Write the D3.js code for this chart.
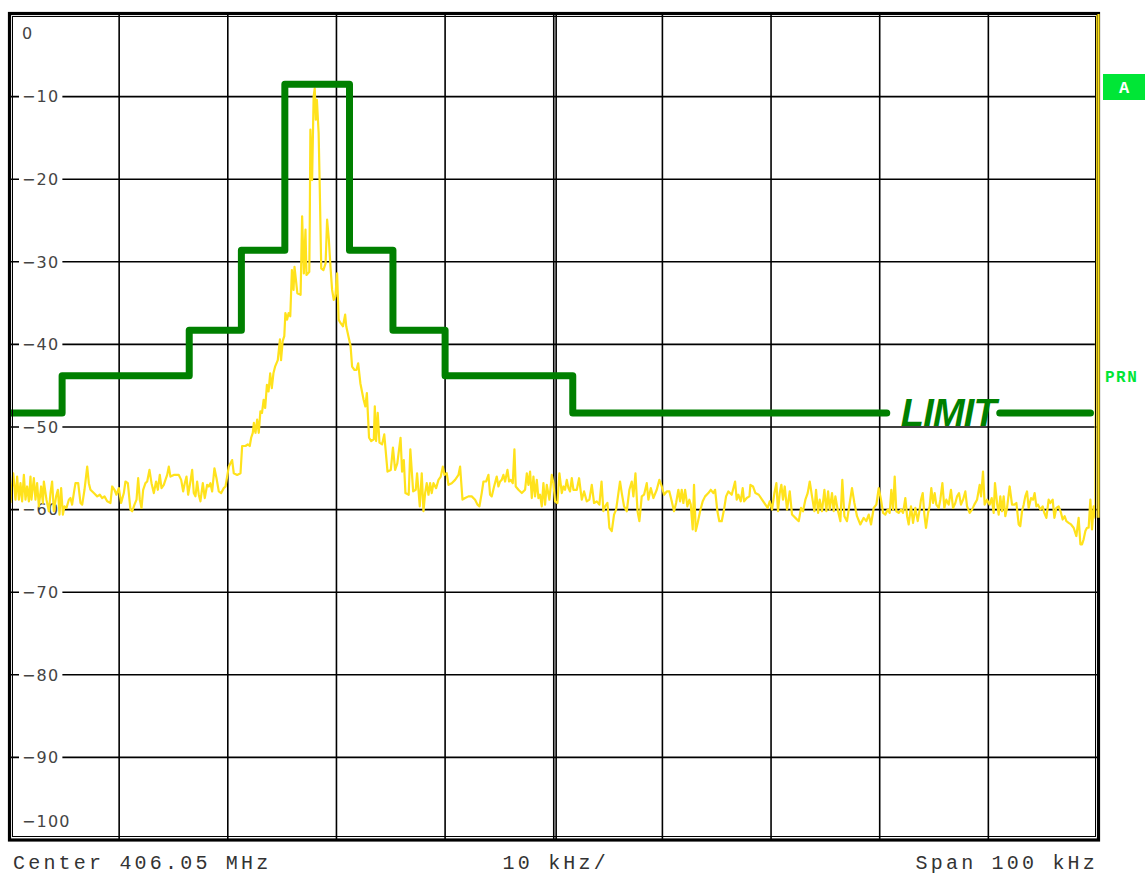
<!DOCTYPE html>
<html>
<head>
<meta charset="utf-8">
<script src="https://cdn.jsdelivr.net/npm/d3@7"></script>
<style>
  body { margin: 0; background: #fff; }
  svg { display: block; }
</style>
</head>
<body>
<div id="root"></div>
<script>
// grid and tick values
const freqGrid = [-50, -40, -30, -20, -10, 0, 10, 20, 30, 40, 50]; // kHz from center
const levelTicks = [0, -10, -20, -30, -40, -50, -60, -70, -80, -90, -100]; // dB
const levelLabels = ['0', '−10', '−20', '−30', '−40', '−50', '−60', '−70', '−80', '−90', '−100'];
const footerLabels = ['Center 406.05 MHz', '10 kHz/', 'Span 100 kHz'];

// limit mask : edges in kHz, one level (dB) between each pair of edges
const limitEdges = [-50, -45.25, -33.55, -28.75, -24.75, -18.8, -14.8, -10, 1.75, 49.4];
const limitLevels = [-48.3, -43.8, -38.3, -28.6, -8.5, -28.6, -38.3, -43.8, -48.3];
const limitLabel = 'LIMIT';
const limitGap = [30.65, 41.05]; // where the label cuts the line (kHz)

// measured trace [kHz, dB]
const trace = [
  [-50.0, -59.2], [-49.75, -55.6], [-49.54, -58.8], [-49.39, -56.0], [-49.23, -58.8], [-49.08, -56.8],
  [-48.93, -59.0], [-48.77, -55.8], [-48.62, -58.8], [-48.47, -57.2], [-48.31, -59.0], [-48.16, -56.0],
  [-48.07, -58.8], [-47.85, -56.2], [-47.70, -58.8], [-47.55, -56.8], [-47.39, -59.6], [-47.18, -57.2],
  [-47.02, -59.2], [-46.93, -56.6], [-46.69, -58.8], [-46.47, -60.2], [-46.32, -58.0], [-46.17, -56.6],
  [-46.01, -60.2], [-45.80, -58.4], [-45.64, -57.6], [-45.49, -60.6], [-45.34, -57.4], [-45.18, -60.6],
  [-45.03, -59.6], [-44.85, -59.8], [-44.63, -58.8], [-44.48, -58.6], [-44.33, -59.4], [-44.17, -58.0],
  [-44.02, -56.8], [-43.77, -56.8], [-43.56, -59.2], [-43.40, -59.4], [-43.19, -57.6], [-42.94, -54.8],
  [-42.79, -56.8], [-42.64, -57.6], [-42.33, -58.0], [-42.02, -58.4], [-41.78, -58.2], [-41.56, -58.6],
  [-41.35, -58.4], [-41.10, -59.0], [-40.80, -59.2], [-40.64, -57.2], [-40.43, -57.6], [-40.25, -58.2],
  [-40.03, -57.4], [-39.82, -59.2], [-39.57, -58.0], [-39.42, -56.6], [-39.20, -56.8], [-38.96, -60.0],
  [-38.80, -60.2], [-38.59, -59.4], [-38.40, -58.8], [-38.25, -56.2], [-38.10, -58.8], [-37.94, -59.8],
  [-37.79, -57.6], [-37.58, -56.8], [-37.42, -56.6], [-37.21, -55.2], [-37.02, -56.8], [-36.81, -58.0],
  [-36.60, -56.6], [-36.44, -57.6], [-36.26, -55.8], [-36.10, -57.4], [-35.89, -57.0], [-35.74, -56.4],
  [-35.58, -55.8], [-35.43, -54.8], [-35.28, -56.0], [-34.97, -55.8], [-34.51, -55.8], [-34.29, -56.4],
  [-34.11, -57.8], [-33.96, -56.8], [-33.80, -56.0], [-33.65, -58.2], [-33.44, -56.6], [-33.28, -55.2],
  [-33.13, -58.0], [-32.98, -58.4], [-32.82, -56.6], [-32.67, -58.2], [-32.52, -59.0], [-32.30, -56.8],
  [-32.12, -58.6], [-31.90, -57.0], [-31.75, -57.2], [-31.60, -56.8], [-31.44, -57.8], [-31.23, -55.0],
  [-31.04, -56.2], [-30.83, -57.8], [-30.61, -58.0], [-30.37, -57.4], [-30.21, -57.2], [-29.91, -54.8],
  [-29.60, -54.0], [-29.45, -55.6], [-29.14, -55.8], [-28.83, -55.6], [-28.68, -52.3], [-28.37, -52.3],
  [-28.16, -52.1], [-27.98, -52.3], [-27.85, -51.3], [-27.70, -50.7], [-27.60, -49.5], [-27.45, -50.7],
  [-27.30, -49.1], [-27.15, -50.7], [-27.00, -48.1], [-26.85, -48.3], [-26.70, -46.7], [-26.56, -47.7],
  [-26.40, -44.9], [-26.25, -45.7], [-26.10, -43.5], [-25.95, -45.3], [-25.80, -43.5], [-25.65, -42.7],
  [-25.40, -41.9], [-25.20, -39.4], [-25.10, -41.9], [-24.95, -39.6], [-24.80, -39.0], [-24.70, -36.2],
  [-24.54, -37.0], [-24.40, -36.2], [-24.25, -36.6], [-24.10, -31.0], [-23.95, -33.4], [-23.86, -30.6],
  [-23.60, -33.8], [-23.30, -34.0], [-23.16, -24.5], [-23.00, -31.4], [-22.85, -26.1], [-22.76, -31.6],
  [-22.50, -31.2], [-22.45, -24.1], [-22.40, -14.0], [-22.24, -20.1], [-22.10, -10.0], [-22.00, -9.0],
  [-21.90, -12.8], [-21.80, -10.4], [-21.64, -14.4], [-21.55, -20.1], [-21.40, -30.8], [-21.20, -31.0],
  [-21.00, -30.2], [-20.86, -24.9], [-20.70, -27.3], [-20.55, -30.6], [-20.40, -33.4], [-20.25, -34.6],
  [-20.10, -34.2], [-19.94, -31.4], [-19.80, -37.0], [-19.63, -37.4], [-19.40, -37.8], [-19.20, -36.4],
  [-19.10, -37.8], [-18.90, -39.0], [-18.70, -40.2], [-18.56, -42.7], [-18.34, -43.1], [-18.16, -43.1],
  [-18.00, -42.3], [-17.80, -44.7], [-17.50, -46.7], [-17.34, -47.5], [-17.20, -45.9], [-17.00, -51.3],
  [-16.80, -51.7], [-16.56, -51.5], [-16.47, -47.5], [-16.35, -51.7], [-16.20, -48.3], [-16.04, -51.9],
  [-15.80, -52.1], [-15.60, -50.9], [-15.30, -55.4], [-15.00, -55.2], [-14.80, -52.5], [-14.60, -55.2],
  [-14.40, -54.4], [-14.10, -51.3], [-13.96, -55.4], [-13.80, -54.0], [-13.65, -58.0], [-13.35, -58.2],
  [-13.20, -52.7], [-12.94, -57.8], [-12.70, -57.6], [-12.58, -55.6], [-12.33, -59.6], [-12.15, -55.6],
  [-11.99, -60.2], [-11.84, -58.0], [-11.69, -56.8], [-11.53, -58.2], [-11.38, -56.8], [-11.23, -58.0],
  [-11.07, -56.8], [-10.83, -57.4], [-10.61, -56.4], [-10.40, -56.0], [-10.21, -54.8], [-10.06, -55.8],
  [-9.85, -55.6], [-9.69, -57.0], [-9.39, -56.8], [-9.08, -56.4], [-8.77, -55.8], [-8.62, -54.8],
  [-8.40, -58.8], [-8.16, -58.6], [-7.85, -58.4], [-7.55, -58.4], [-7.24, -58.8], [-7.02, -59.4],
  [-6.84, -59.6], [-6.63, -58.0], [-6.47, -56.6], [-6.23, -56.6], [-6.01, -55.8], [-5.86, -58.2],
  [-5.71, -58.4], [-5.49, -57.2], [-5.25, -56.0], [-5.09, -57.2], [-4.94, -56.6], [-4.79, -56.4],
  [-4.63, -55.8], [-4.48, -56.6], [-4.26, -55.2], [-4.11, -56.6], [-3.96, -56.4], [-3.77, -56.8],
  [-3.62, -52.7], [-3.50, -57.2], [-3.25, -57.6], [-2.94, -58.0], [-2.64, -57.6], [-2.48, -55.6],
  [-2.33, -57.0], [-2.18, -55.4], [-2.02, -58.6], [-1.87, -56.0], [-1.72, -58.4], [-1.56, -56.4],
  [-1.41, -58.6], [-1.26, -58.2], [-1.10, -59.6], [-0.95, -56.8], [-0.80, -59.4], [-0.64, -57.0],
  [-0.40, -58.8], [-0.18, -55.8], [-0.03, -56.8], [0.12, -59.0], [0.34, -59.2], [0.52, -55.6],
  [0.74, -58.0], [0.89, -57.2], [1.04, -57.6], [1.20, -56.4], [1.35, -57.4], [1.50, -57.8],
  [1.66, -56.2], [1.81, -57.6], [2.12, -57.6], [2.33, -56.2], [2.58, -58.8], [2.79, -57.8],
  [3.04, -59.0], [3.28, -58.8], [3.50, -57.0], [3.71, -59.2], [3.96, -59.0], [4.20, -59.4],
  [4.40, -56.6], [4.57, -60.2], [4.72, -59.6], [4.94, -59.2], [5.12, -62.2], [5.34, -62.6],
  [5.55, -60.6], [5.74, -60.0], [5.95, -58.0], [6.10, -56.6], [6.26, -58.0], [6.47, -59.6],
  [6.72, -60.2], [6.96, -57.6], [7.18, -56.6], [7.33, -58.4], [7.52, -55.6], [7.71, -60.2],
  [7.88, -61.4], [8.10, -58.4], [8.31, -58.2], [8.56, -56.8], [8.71, -58.8], [8.93, -57.4],
  [9.17, -58.6], [9.48, -57.6], [9.72, -56.4], [9.94, -57.2], [10.15, -58.2], [10.40, -57.8],
  [10.64, -57.8], [10.86, -59.0], [11.07, -60.2], [11.26, -59.2], [11.47, -57.6], [11.63, -59.0],
  [11.78, -57.6], [11.93, -59.2], [12.09, -57.6], [12.30, -59.6], [12.48, -58.8], [12.61, -59.4],
  [12.79, -62.4], [12.91, -57.0], [13.07, -62.6], [13.25, -61.6], [13.47, -60.2], [13.71, -59.0],
  [13.93, -58.4], [14.23, -58.0], [14.45, -57.6], [14.69, -58.0], [14.85, -57.6], [15.06, -60.2],
  [15.24, -61.4], [15.46, -61.4], [15.67, -60.0], [15.86, -58.4], [16.07, -57.8], [16.38, -58.2],
  [16.69, -56.6], [16.84, -58.8], [16.99, -58.2], [17.21, -59.0], [17.39, -57.4], [17.52, -59.0],
  [17.76, -58.6], [18.01, -58.4], [18.10, -57.0], [18.34, -57.2], [18.56, -58.0], [18.87, -58.2],
  [19.17, -58.8], [19.48, -59.4], [19.69, -59.8], [19.88, -59.0], [20.09, -60.0], [20.31, -58.0],
  [20.49, -56.8], [20.64, -60.2], [20.80, -58.0], [20.95, -57.0], [21.10, -58.8], [21.26, -57.2],
  [21.47, -60.0], [21.72, -57.8], [21.93, -60.6], [22.24, -61.0], [22.55, -61.4], [22.76, -59.8],
  [22.94, -60.2], [23.16, -58.8], [23.37, -58.0], [23.56, -56.6], [23.77, -58.4], [23.99, -60.2],
  [24.14, -57.6], [24.33, -60.4], [24.48, -58.8], [24.69, -60.2], [24.91, -57.6], [25.09, -60.2],
  [25.25, -57.8], [25.40, -60.0], [25.61, -58.0], [25.77, -60.2], [25.92, -58.4], [26.13, -60.0],
  [26.38, -61.4], [26.56, -56.4], [26.75, -60.8], [26.99, -61.4], [27.24, -59.2], [27.45, -57.4],
  [27.67, -59.2], [27.91, -60.8], [28.22, -61.8], [28.53, -61.0], [28.77, -61.4], [28.99, -60.6],
  [29.20, -61.8], [29.45, -59.8], [29.69, -59.4], [29.91, -57.4], [30.12, -58.8], [30.31, -60.4],
  [30.52, -60.6], [30.74, -60.0], [30.92, -60.4], [31.07, -57.6], [31.23, -60.0], [31.38, -56.0],
  [31.53, -60.2], [31.75, -60.4], [31.96, -60.0], [32.15, -60.4], [32.36, -58.6], [32.52, -60.8],
  [32.67, -61.8], [32.88, -59.6], [33.07, -61.6], [33.28, -59.8], [33.50, -61.4], [33.68, -60.0],
  [33.80, -58.8], [33.96, -58.0], [34.11, -60.6], [34.26, -62.2], [34.45, -60.4], [34.60, -59.6],
  [34.75, -57.4], [34.91, -59.2], [35.06, -58.0], [35.21, -59.4], [35.43, -59.8], [35.58, -58.8],
  [35.77, -56.8], [35.95, -59.8], [36.13, -58.8], [36.35, -59.4], [36.56, -57.6], [36.75, -59.8],
  [36.96, -59.2], [37.12, -58.4], [37.30, -58.0], [37.48, -59.4], [37.67, -58.8], [37.88, -57.8],
  [38.04, -59.6], [38.28, -60.4], [38.50, -60.0], [38.71, -59.4], [38.96, -58.8], [39.20, -57.0],
  [39.33, -58.4], [39.51, -55.4], [39.66, -59.4], [39.88, -58.8], [40.12, -59.4], [40.31, -58.6],
  [40.49, -60.4], [40.61, -56.8], [40.80, -59.2], [40.95, -60.6], [41.10, -58.4], [41.26, -60.2],
  [41.41, -58.4], [41.56, -60.8], [41.72, -59.8], [41.96, -57.2], [42.18, -59.4], [42.39, -59.4],
  [42.58, -59.2], [42.79, -61.8], [42.94, -62.0], [43.10, -60.2], [43.25, -59.4], [43.40, -58.4],
  [43.56, -57.8], [43.71, -59.8], [43.93, -58.6], [44.11, -58.8], [44.26, -58.0], [44.42, -59.6],
  [44.57, -59.4], [44.79, -60.0], [45.00, -59.6], [45.15, -60.4], [45.34, -61.0], [45.55, -58.8],
  [45.71, -59.2], [45.92, -58.8], [46.08, -61.0], [46.26, -59.8], [46.47, -59.6], [46.69, -60.4],
  [46.84, -61.2], [47.02, -60.8], [47.18, -61.4], [47.39, -61.6], [47.61, -61.8], [47.85, -62.2],
  [48.10, -63.2], [48.31, -61.0], [48.47, -64.2], [48.62, -64.2], [48.77, -63.6], [48.93, -62.6],
  [49.08, -62.2], [49.23, -62.2], [49.39, -58.8], [49.54, -62.4], [49.69, -59.6], [49.85, -61.0],
  [50.0, 0]
];

const width = 1147;
const height = 876;
const plotLeft = 10.5, plotRight = 1097, plotTop = 14, plotBottom = 840;
const yellow = '#ffe21c';
const green = '#008000';
const bright = '#00e636';

const svg = d3.select('#root').append('svg').attr('width', width).attr('height', height);

const x = d3.scaleLinear().domain([-50, 50]).range([plotLeft, plotRight]);
const y = d3.scaleLinear().domain([0, -100]).range([plotTop, plotBottom]);

svg.append('defs').append('clipPath').attr('id', 'plot')
  .append('rect')
  .attr('x', plotLeft).attr('y', plotTop)
  .attr('width', plotRight - plotLeft + 2).attr('height', plotBottom - plotTop);

// grid
const grid = svg.append('g').attr('stroke', '#000').attr('stroke-width', 1.6);
grid.selectAll('line.v')
  .data(freqGrid.slice(1, -1))
  .join('line')
  .attr('x1', d => x(d)).attr('x2', d => x(d))
  .attr('y1', plotTop).attr('y2', plotBottom);
// center line is doubled
grid.append('line').attr('x1', x(0) + 2.4).attr('x2', x(0) + 2.4).attr('y1', plotTop).attr('y2', plotBottom);
grid.selectAll('line.h')
  .data(levelTicks.slice(1, -1))
  .join('line')
  .attr('x1', plotLeft).attr('x2', plotRight)
  .attr('y1', d => y(d)).attr('y2', d => y(d));

// level labels, sitting on the grid lines with a white back
const labels = svg.append('g')
  .attr('font-family', 'DejaVu Sans')
  .attr('font-size', 16)
  .attr('letter-spacing', 1.2)
  .attr('fill', '#444');
levelTicks.forEach((v, i) => {
  let ty = y(v);
  if (i === 0) ty += 19;
  if (i === levelTicks.length - 1) ty -= 19;
  const t = labels.append('text')
    .attr('x', 22).attr('y', ty).attr('dy', '0.36em')
    .text(levelLabels[i]);
  const b = t.node().getBBox();
  labels.insert('rect', () => t.node())
    .attr('x', b.x - 3).attr('y', b.y + 2).attr('width', b.width + 6).attr('height', b.height - 4)
    .attr('fill', '#fff');
});

// trace
const line = d3.line().x(d => x(d[0])).y(d => y(d[1]));
svg.append('path')
  .attr('clip-path', 'url(#plot)')
  .attr('d', line(trace))
  .attr('fill', 'none')
  .attr('stroke', yellow)
  .attr('stroke-width', 2.2)
  .attr('stroke-linejoin', 'round');

// limit line, cut where its label sits
const limitPts = [];
limitLevels.forEach((lvl, i) => {
  limitPts.push([limitEdges[i], lvl], [limitEdges[i + 1], lvl]);
});
const lastLevel = limitLevels[limitLevels.length - 1];
const before = limitPts.filter(d => d[0] <= limitGap[0]);
before.push([limitGap[0], lastLevel]);
const after = [[limitGap[1], lastLevel], [limitEdges[limitEdges.length - 1], lastLevel]];
[before, after].forEach(pts => {
  svg.append('path')
    .attr('clip-path', 'url(#plot)')
    .attr('d', line(pts))
    .attr('fill', 'none')
    .attr('stroke', green)
    .attr('stroke-width', 7)
    .attr('stroke-linejoin', 'round')
    .attr('stroke-linecap', 'round');
});
svg.append('text')
  .attr('x', x(limitGap[0]) + 14)
  .attr('y', y(lastLevel) + 13)
  .attr('font-family', 'Liberation Sans')
  .attr('font-weight', 'bold')
  .attr('font-style', 'italic')
  .attr('font-size', 38)
  .attr('letter-spacing', -0.8)
  .attr('fill', green)
  .text(limitLabel);

// frame
svg.append('rect')
  .attr('x', plotLeft - 1).attr('y', plotTop - 0.5)
  .attr('width', plotRight - plotLeft + 2.5).attr('height', plotBottom - plotTop + 0.5)
  .attr('fill', 'none').attr('stroke', '#000').attr('stroke-width', 3.2);
svg.append('rect')
  .attr('x', plotLeft + 2).attr('y', plotTop + 2.5)
  .attr('width', plotRight - plotLeft - 3.5).attr('height', plotBottom - plotTop - 6)
  .attr('fill', 'none').attr('stroke', '#000').attr('stroke-width', 1);
svg.append('line')
  .attr('x1', plotRight + 1.5).attr('x2', plotRight + 1.5)
  .attr('y1', plotTop).attr('y2', y(-61))
  .attr('stroke', yellow).attr('stroke-width', 2.2);

// side markers
svg.append('rect').attr('x', 1103).attr('y', 74).attr('width', 42).attr('height', 26).attr('fill', bright);
svg.append('text')
  .attr('x', 1124).attr('y', 93)
  .attr('text-anchor', 'middle')
  .attr('font-family', 'Liberation Mono').attr('font-weight', 'bold').attr('font-size', 17)
  .attr('fill', '#fff')
  .text('A');
svg.append('text')
  .attr('x', 1105).attr('y', 382)
  .attr('font-family', 'Liberation Mono').attr('font-weight', 'bold').attr('font-size', 16)
  .attr('letter-spacing', 1.5)
  .attr('fill', bright)
  .text('PRN');

// footer
const footer = svg.append('g')
  .attr('font-family', 'Liberation Mono')
  .attr('font-size', 20)
  .attr('letter-spacing', 3.2)
  .attr('fill', '#333');
footer.append('text').attr('x', 13).attr('y', 869).text(footerLabels[0]);
footer.append('text').attr('x', x(0) + 2).attr('y', 869).attr('text-anchor', 'middle').text(footerLabels[1]);
footer.append('text').attr('x', 1098).attr('y', 869).attr('text-anchor', 'end').text(footerLabels[2]);
</script>
</body>
</html>
